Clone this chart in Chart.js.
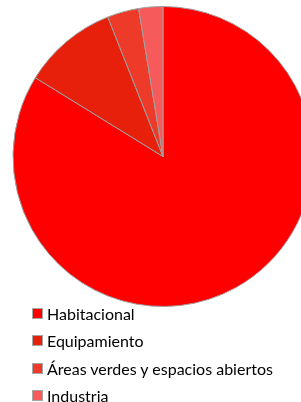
<!DOCTYPE html>
<html>
<head>
<meta charset="utf-8">
<script src="https://cdn.jsdelivr.net/npm/chart.js@4"></script>
<style>
    html, body { margin: 0; padding: 0; background: #fff; overflow: hidden; width: 301px; height: 402px; }
    #chart-wrap { position: absolute; left: 0; top: 0; width: 326px; height: 307px; }
    #legend { position: absolute; left: 32px; top: 300px; margin: 0; padding: 0; list-style: none; font-family: Lato, sans-serif; font-size: 16px; color: #000; }
    #legend li { display: flex; align-items: center; height: 27.3px; white-space: nowrap; }
    #legend span.box { display: inline-block; width: 9px; height: 9px; border: 1px solid #a6a6a6; margin-right: 4px; box-sizing: content-box; }
</style>
</head>
<body>
<div id="chart-wrap"><canvas id="pie"></canvas></div>
<ul id="legend"></ul>
<script>
const categories = ["Habitacional", "Equipamiento", "Áreas verdes y espacios abiertos", "Industria"];
const shares = [83.8, 10.2, 3.4, 2.6];
const colors = ["#ff0000", "#e6200a", "#ee3a28", "#f75a5a"];

document.addEventListener("DOMContentLoaded", () => {
    renderPie();
    renderLegend();
});

function renderPie() {
    new Chart(document.getElementById("pie"), {
        type: "pie",
        data: {
            labels: categories,
            datasets: [{ data: shares, backgroundColor: colors, borderColor: "#a0a0a0", borderWidth: 1 }]
        },
        options: {
            responsive: true,
            maintainAspectRatio: false,
            animation: false,
            layout: { padding: { top: 6 } },
            plugins: { legend: { display: false }, tooltip: { enabled: false } }
        }
    });
}

function renderLegend() {
    document.getElementById("legend").innerHTML = categories.map((name, i) =>
        `<li><span class="box" style="background:${colors[i]}"></span>${name}</li>`
    ).join("");
}
</script>
</body>
</html>
